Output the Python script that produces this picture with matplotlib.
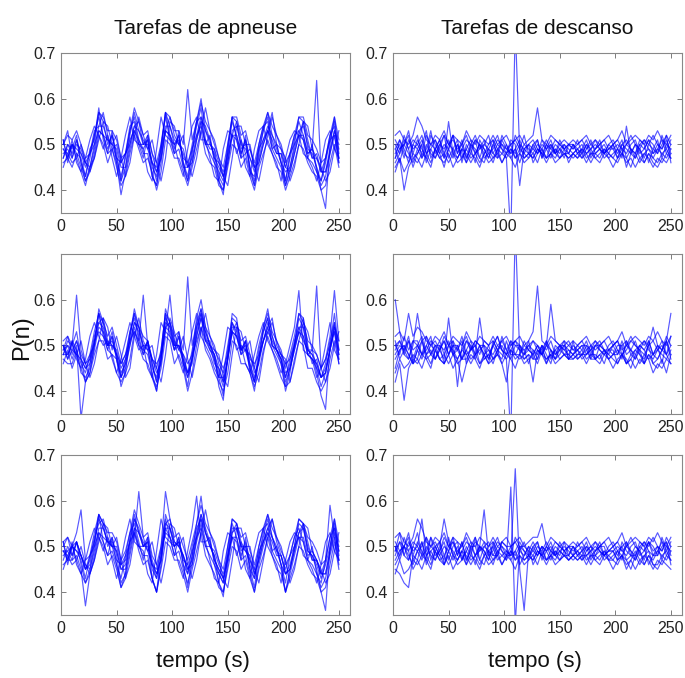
import numpy as np
import matplotlib
matplotlib.use("Agg")
import matplotlib.pyplot as plt

plt.rcParams['font.family'] = ['Liberation Sans', 'DejaVu Sans']

# time axis (s), sampled every 4 s
t = np.arange(2, 251, 4)

titles = ["Tarefas de apneuse", "Tarefas de descanso"]
xlabel = "tempo (s)"
ylabel = "P(n)"
xticks = [0, 50, 100, 150, 200, 250]

# values in hundredths of P(n)
apn1 = [
    [47,50,49,52,46,43,47,52,56,52, 49,52,47,43,47,53,56,51,49,51, 46,42,49,57,52,49,52,46,43,49, 54,58,51,49,49,43,41,49,55,52, 48,51,45,42,49,53,56,50,48,48, 42,47,51,55,52,48,49,45,42,46, 51,55,47],
    [46,47,45,48,45,42,44,48,53,52, 48,49,46,39,44,49,53,51,48,48, 43,41,46,53,52,48,49,45,42,46, 51,55,50,48,46,42,40,46,52,51, 47,48,44,41,46,50,53,49,47,45, 41,44,48,52,51,47,46,44,41,43, 48,52,46],
    [50,52,51,53,50,47,48,52,57,56, 53,53,51,47,48,53,58,55,52,53, 48,46,50,57,56,53,53,50,62,51, 55,59,55,53,51,47,45,50,56,56, 52,53,49,46,50,54,57,54,52,50, 46,48,52,56,56,52,51,49,46,47, 52,56,51],
    [49,48,50,47,50,46,44,47,51,55, 54,50,52,47,43,46,52,56,52,49, 51,46,42,47,55,54,50,52,46,43, 47,53,58,53,50,47,43,41,47,54, 54,50,50,45,42,47,52,56,52,49, 47,42,45,50,55,54,49,47,45,42, 44,49,53],
    [48,49,47,51,46,42,45,50,57,55, 50,52,48,42,45,52,57,53,50,51, 43,41,48,57,54,50,52,46,42,48, 55,60,53,50,48,42,39,48,56,55, 49,50,45,41,48,53,57,52,49,46, 41,45,50,56,55,49,48,45,40,36, 50,56,48],
    [47,50,48,51,48,45,48,50,53,52, 51,50,47,46,48,51,53,50,50,50, 46,45,49,53,52,50,51,47,46,49, 52,54,50,50,49,46,44,48,52,52, 48,51,47,45,49,51,53,51,48,48, 45,48,50,52,52,48,49,64,44,47, 51,52,47],
    [51,47,51,46,44,47,51,54,52,49, 52,47,43,47,52,56,51,50,49,44, 42,49,56,52,51,50,46,43,49,54, 56,51,51,47,43,42,49,53,52,48, 51,45,43,49,53,54,50,48,46,42, 47,51,53,52,48,47,45,42,46,51, 53,49,47],
    [49,47,50,49,48,46,45,49,54,54, 51,50,49,45,45,50,54,53,51,49, 46,44,47,54,54,51,50,48,45,47, 52,56,53,51,47,45,43,47,53,54, 50,49,47,44,47,51,54,52,50,46, 44,45,49,53,54,50,47,47,44,44, 49,53,49],
    [50,53,47,50,49,46,48,53,54,57, 52,49,50,46,48,50,54,55,50,52, 48,44,47,53,56,52,50,49,45,46, 51,55,54,51,47,46,43,46,52,55, 51,48,49,45,46,50,53,57,50,49, 45,44,48,52,55,51,47,48,44,44, 48,53,50],
    [45,48,46,47,44,41,45,47,52,50, 46,49,45,41,43,48,52,49,46,47, 44,40,44,51,50,47,47,44,41,45, 49,53,48,46,45,41,40,45,50,49, 45,47,43,40,45,48,51,48,45,44, 40,43,46,50,49,46,44,43,40,41, 46,50,45],
    [51,46,50,48,47,43,49,51,58,51, 48,53,46,42,48,54,55,50,47,52, 45,43,50,56,51,48,53,45,45,50, 55,56,50,52,46,44,42,50,56,51, 47,52,44,43,50,54,55,49,50,46, 42,48,52,53,51,47,50,44,42,47, 52,54,46],
]

apn2 = [
    [48,51,50,53,47,42,46,51,57,53, 50,53,48,43,46,52,57,52,48,51, 46,42,47,56,54,49,52,47,43,47, 54,58,52,49,48,44,41,47,55,53, 49,51,46,42,47,53,56,50,49,47, 42,45,50,56,54,48,47,46,43,44, 49,55,49],
    [47,46,46,49,44,43,45,49,54,53, 49,48,47,43,45,50,54,50,49,48, 44,40,47,54,53,49,50,46,43,47, 52,56,51,49,47,43,39,47,53,52, 48,49,45,42,47,51,54,50,48,46, 41,45,49,53,52,48,47,45,41,44, 49,53,46],
    [51,52,50,61,49,46,48,53,57,55, 52,54,50,46,48,53,57,54,52,51, 47,45,49,57,55,52,53,49,65,50, 55,58,54,52,50,46,44,50,56,55, 51,52,48,45,50,54,57,53,51,49, 45,48,52,57,55,51,50,48,45,47, 52,62,51],
    [50,47,49,48,51,46,43,46,51,56, 54,49,52,48,43,45,52,56,51,49, 50,45,42,48,56,53,49,52,47,43, 48,53,57,52,49,48,43,41,48,54, 53,49,51,45,42,48,53,55,51,48, 47,42,46,51,55,53,49,48,45,42, 45,50,53],
    [49,50,47,50,34,42,44,50,58,55, 50,52,47,41,44,52,58,54,50,50, 43,40,47,58,55,50,53,46,41,48, 56,60,54,50,48,41,38,48,57,56, 49,51,44,40,47,54,58,52,49,46, 40,44,50,57,56,49,48,44,39,36, 50,57,49],
    [48,50,49,51,48,46,47,51,53,52, 50,51,48,46,48,51,53,51,61,50, 47,46,48,53,52,50,50,48,46,48, 51,54,51,50,49,47,45,48,53,52, 49,50,47,46,48,51,53,51,49,48, 46,47,50,53,51,49,49,63,45,47, 50,53,48],
    [50,48,51,47,45,47,52,55,52,50, 51,47,44,47,51,55,52,49,50,45, 43,48,55,53,61,51,47,44,48,53, 57,52,50,48,45,43,48,54,53,49, 50,46,44,48,52,55,51,49,47,44, 46,50,54,62,49,48,47,43,45,50, 55,49,47],
    [48,48,50,48,47,45,46,50,55,54, 50,50,48,44,46,50,55,53,50,49, 45,43,48,55,54,50,50,47,44,47, 53,57,53,50,48,45,42,47,54,54, 49,49,46,43,47,51,55,52,49,47, 43,46,50,54,54,49,48,46,43,44, 49,54,48],
    [49,52,48,51,47,45,47,52,55,56, 51,50,49,45,47,51,55,54,49,51, 47,44,46,54,55,51,49,48,44,46, 52,56,53,50,46,45,42,47,53,55, 50,49,48,44,46,51,54,56,50,48, 44,45,49,53,56,50,46,47,43,45, 49,54,51],
    [46,49,45,48,45,42,44,48,51,51, 47,48,44,42,44,47,53,50,47,46, 43,41,45,52,51,46,48,45,40,44, 50,54,49,47,44,42,40,44,51,50, 46,46,44,41,44,49,52,49,46,43, 41,42,47,51,50,45,45,42,40,42, 47,51,46],
    [50,47,51,49,46,44,48,50,57,52, 49,52,47,43,47,53,56,51,48,51, 46,42,49,57,52,49,52,46,44,49, 54,57,51,51,47,43,43,49,55,52, 48,51,45,42,49,53,56,50,49,47, 43,47,51,54,52,48,49,45,43,46, 51,55,47],
]

apn3 = [
    [49,49,50,51,48,45,46,51,56,54, 51,51,49,45,46,51,56,53,50,51, 46,43,48,55,54,50,51,48,44,48, 53,57,53,50,48,44,42,48,54,54, 50,50,46,43,48,52,56,52,49,48, 44,46,50,55,54,49,48,46,43,46, 50,55,49],
    [46,47,47,48,45,37,44,48,53,51, 48,49,46,41,44,49,54,50,48,48, 43,40,46,54,52,48,49,45,42,46, 51,55,50,48,46,42,40,46,52,51, 47,48,44,40,46,50,53,49,47,45, 40,44,48,52,51,47,46,44,41,43, 48,52,46],
    [51,52,50,53,58,47,48,53,57,55, 53,53,51,47,49,53,58,55,52,53, 48,46,50,62,56,52,53,50,47,51, 55,59,55,53,51,47,45,50,56,55, 52,53,49,46,50,54,57,54,52,50, 46,48,52,56,55,52,51,49,46,47, 52,56,51],
    [49,48,50,47,50,46,44,47,51,55, 54,50,52,47,43,46,52,62,52,49, 51,46,42,47,55,54,50,52,46,43, 47,53,58,53,50,47,43,41,47,54, 54,50,50,45,42,47,52,56,52,49, 47,42,45,50,55,54,49,47,45,42, 44,49,53],
    [48,49,47,51,46,42,45,50,57,55, 50,52,48,42,44,52,57,53,50,51, 43,40,48,57,54,50,52,46,41,48, 55,61,53,50,48,42,39,48,56,55, 49,50,45,41,48,53,57,52,49,46, 40,45,50,56,55,49,48,45,40,36, 50,56,48],
    [47,50,48,51,48,45,48,50,53,52, 51,50,47,46,48,51,53,50,50,50, 46,45,49,53,52,50,51,47,46,49, 52,54,50,50,49,46,44,48,52,52, 48,51,47,45,49,51,53,51,48,48, 45,48,50,52,52,48,49,47,44,47, 59,52,47],
    [51,47,51,46,44,47,51,54,52,49, 52,47,43,47,52,56,51,50,49,44, 42,49,56,52,51,50,46,43,49,54, 61,51,51,47,43,42,49,53,52,48, 51,45,43,49,53,54,50,48,46,42, 47,51,53,52,48,47,45,42,46,51, 53,49,47],
    [49,47,50,49,48,46,45,49,54,54, 51,50,49,45,45,50,54,53,51,49, 46,44,47,54,54,51,50,48,45,47, 52,56,53,51,47,45,43,47,53,54, 50,49,47,44,47,51,54,52,50,46, 44,45,49,53,54,50,47,47,44,44, 49,53,49],
    [50,52,48,51,48,45,47,52,55,56, 52,50,50,46,47,51,56,54,50,52, 47,44,47,55,56,51,50,48,45,46, 52,57,54,51,47,45,43,47,53,55, 51,49,48,44,47,51,54,56,51,48, 44,45,49,53,55,51,47,47,44,44, 49,54,50],
    [45,48,46,47,44,42,44,47,52,50, 46,48,45,41,43,48,53,49,46,47, 43,40,45,51,50,47,47,44,40,45, 49,53,48,46,44,41,40,45,50,49, 45,47,43,40,45,48,52,48,45,44, 40,43,46,50,49,46,44,43,40,41, 46,51,45],
    [51,46,50,49,47,43,48,51,57,51, 48,52,46,43,48,53,55,51,47,52, 45,43,50,56,52,48,52,46,44,50, 54,56,51,52,46,44,42,50,55,52, 47,52,45,43,50,54,55,49,50,46, 42,48,52,54,51,47,50,44,42,47, 52,54,47],
]

des1 = [
    [48,50,47,51,49,50,52,48,49,47, 50,49,51,48,50,47,49,51,48,50, 49,47,50,52,49,48,50,51,49,48, 50,49,48,50,49,51,48,49,50,49, 48,49,50,48,49,50,49,48,50,51, 49,48,50,49,47,50,51,49,48,50, 49,51,48],
    [45,47,44,46,48,47,45,48,46,49, 47,46,48,45,47,49,46,48,47,45, 48,46,47,49,46,48,47,45,48,46, 47,48,46,49,47,48,46,47,48,47, 48,47,48,46,48,47,46,48,47,45, 47,48,46,47,45,47,46,48,46,45, 47,46,48],
    [52,53,51,50,52,56,54,51,50,52, 51,53,50,52,51,50,53,51,50,52, 51,50,52,50,51,52,50,51,52,50, 51,52,58,51,50,52,51,50,51,50, 51,50,51,52,50,51,50,51,52,50, 51,53,50,51,52,51,50,52,51,53, 51,50,52],
    [44,47,40,45,47,46,48,47,45,49, 47,48,46,48,46,47,49,47,48,46, 48,49,47,48,46,48,49,47,48,47, 48,47,49,48,47,48,49,47,48,48, 47,48,49,47,48,48,47,49,48,47, 46,48,47,45,48,46,48,47,45,47, 46,48,47],
    [49,51,48,47,50,49,51,48,50,49, 51,48,50,49,47,49,51,50,48,49, 50,49,48,50,49,47,30,76,48,50, 49,48,50,49,51,49,48,50,49,48, 50,49,48,50,49,51,49,48,49,50, 48,50,51,49,48,50,49,51,48,49, 51,48,50],
    [50,48,52,49,51,50,48,52,50,51, 49,52,50,51,49,50,52,49,51,50, 48,50,51,49,50,48,51,50,41,49, 50,51,49,48,50,49,51,50,49,50, 49,50,51,49,50,49,50,51,49,50, 51,49,50,52,50,49,51,50,52,50, 49,52,50],
    [47,49,50,48,46,49,47,50,48,47, 49,47,55,48,47,49,48,46,48,50, 47,48,46,49,48,47,49,48,50,47, 48,47,49,48,46,48,47,49,48,47, 48,49,47,48,49,47,48,49,47,48, 49,47,54,48,47,49,46,48,47,49, 48,47,49],
    [51,49,50,53,48,51,49,47,52,50, 48,50,49,52,48,51,47,50,52,49, 51,48,49,51,50,49,48,52,50,49, 48,50,51,47,49,50,48,51,49,50, 50,48,49,51,48,49,50,48,49,49, 50,49,48,50,51,48,49,51,50,48, 52,49,51],
    [47,51,49,46,50,52,47,49,53,48, 50,52,47,49,51,46,50,48,51,47, 50,52,48,47,51,49,50,47,49,52, 48,49,51,47,50,48,50,49,47,50, 49,51,48,50,47,49,51,48,50,49, 47,50,49,48,50,49,47,50,49,51, 47,50,49],
    [49,46,50,52,47,48,50,53,47,49, 51,47,49,52,48,50,47,49,46,51, 49,47,50,48,52,50,48,49,51,48, 47,50,48,51,49,47,49,48,50,48, 50,48,47,49,51,48,49,50,48,47, 49,51,47,49,48,51,50,46,49,48, 50,52,46],
    [46,48,51,49,45,48,50,46,49,51, 48,45,49,47,50,48,46,50,49,47, 46,49,51,47,48,50,47,49,46,49, 50,46,48,49,47,50,48,47,49,46, 48,47,49,48,46,48,49,47,48,50, 47,49,45,48,50,47,48,49,47,46, 48,49,47],
]

des2 = [
    [60,53,48,51,49,50,52,48,49,47, 50,49,51,48,50,47,49,51,48,56, 49,47,50,52,49,48,50,51,49,48, 50,49,48,50,49,51,48,49,50,49, 48,49,50,48,49,50,49,48,50,51, 49,48,50,49,47,50,51,49,48,50, 49,51,57],
    [44,47,45,46,48,47,45,48,46,49, 47,46,48,45,47,42,46,48,47,45, 48,46,47,49,46,48,47,45,48,46, 47,48,46,49,47,48,46,47,48,47, 48,47,48,46,48,47,46,48,47,45, 47,48,46,47,45,47,46,48,46,45, 47,44,48],
    [52,53,51,57,52,54,53,51,50,52, 51,53,50,52,51,50,53,51,50,52, 51,50,52,50,51,52,50,51,52,50, 51,53,63,51,50,52,51,50,51,50, 51,50,51,52,50,51,50,51,52,50, 51,53,50,51,52,51,50,52,51,53, 51,50,52],
    [42,46,38,45,47,46,48,47,45,49, 47,48,46,48,46,47,49,47,48,46, 48,49,47,48,46,42,49,47,48,47, 48,42,49,48,47,48,49,47,48,48, 47,48,49,47,48,48,47,49,48,47, 46,48,47,45,48,46,48,47,44,46, 45,47,46],
    [49,51,48,47,50,57,51,48,50,49, 51,48,50,49,47,49,51,50,48,49, 50,49,48,50,49,47,30,76,48,50, 49,48,50,49,51,49,48,50,49,48, 50,49,48,50,49,51,49,48,49,50, 48,50,51,49,48,50,49,51,48,49, 51,48,50],
    [50,48,52,49,51,50,48,52,50,51, 49,52,50,51,41,50,52,49,51,50, 48,50,51,49,50,48,51,50,49,49, 50,51,49,48,50,59,51,50,49,50, 49,50,51,49,50,49,50,51,49,50, 51,49,50,52,50,49,51,50,54,50, 49,52,50],
    [47,49,50,48,46,49,47,50,48,47, 49,47,56,48,47,49,48,46,48,50, 47,48,46,49,48,47,49,48,50,47, 48,47,49,48,46,48,47,49,48,47, 48,49,47,48,49,47,48,49,47,48, 49,47,51,48,47,49,46,48,47,49, 48,47,49],
    [50,51,49,52,47,50,48,49,51,50, 49,51,48,50,49,52,48,49,51,50, 50,47,50,52,49,48,49,51,50,48, 49,51,50,48,50,49,47,50,50,51, 49,49,50,50,47,50,51,49,48,50, 51,48,49,51,50,49,48,50,51,49, 50,48,52],
    [48,50,49,47,51,51,48,50,52,47, 49,51,48,50,50,47,51,49,50,48, 51,50,47,48,52,49,51,48,48,51, 49,48,50,48,51,47,49,50,48,49, 48,50,49,51,48,50,50,49,49,48, 48,51,48,49,51,48,46,51,48,50, 46,51,48],
    [51,47,49,51,46,49,51,52,48,50, 50,46,48,51,49,51,46,50,47,50, 48,46,51,49,51,49,47,50,50,49, 46,49,47,50,48,46,50,49,51,47, 51,47,48,48,50,47,50,49,47,48, 50,50,46,48,49,50,49,47,48,47, 49,51,47],
    [45,49,50,48,46,47,51,47,48,50, 47,46,50,48,49,47,47,49,50,46, 47,48,50,48,47,51,48,48,47,48, 51,47,47,50,46,49,47,48,50,47, 47,48,48,49,47,47,48,46,49,49, 46,48,46,47,49,48,47,50,46,47, 49,48,46],
]

des3 = [
    [49,53,48,51,49,50,56,48,49,47, 50,56,51,48,50,47,49,51,48,50, 49,47,50,52,49,48,50,51,49,48, 50,49,48,50,49,51,48,49,50,49, 48,49,50,48,49,50,49,48,50,51, 49,48,50,49,47,50,51,49,48,50, 49,51,48],
    [45,44,42,41,48,47,45,48,46,49, 47,46,48,45,47,49,46,48,47,45, 48,46,47,49,46,48,47,45,48,46, 47,48,46,49,47,48,46,47,48,47, 48,47,48,46,48,47,46,48,47,45, 47,48,46,47,45,47,46,48,46,45, 47,46,45],
    [52,53,51,50,52,56,54,51,50,52, 51,53,50,52,51,50,53,51,50,52, 51,50,52,50,51,52,50,51,52,50, 51,52,52,55,50,52,51,50,51,50, 51,50,51,52,50,51,50,51,52,50, 51,53,50,51,52,51,50,52,51,53, 51,50,52],
    [44,47,44,45,47,46,48,47,45,49, 47,48,46,48,46,47,49,47,48,46, 48,49,47,48,46,48,49,47,48,47, 48,47,49,48,47,48,49,47,48,48, 47,48,49,47,48,48,47,49,48,47, 46,48,47,45,48,46,48,47,45,47, 46,48,47],
    [49,51,48,47,50,49,51,48,50,49, 51,48,50,49,47,49,51,50,48,49, 50,49,48,50,49,47,63,33,50,50, 49,48,50,49,51,49,48,50,49,48, 50,49,48,50,49,51,49,48,49,50, 48,50,51,49,48,50,49,51,48,49, 51,48,50],
    [50,48,52,49,51,50,48,52,50,51, 49,52,50,51,49,50,52,49,51,50, 48,50,51,49,50,48,48,67,45,36, 49,51,49,48,50,49,51,50,49,50, 49,50,51,49,50,49,50,51,49,50, 51,49,50,52,50,49,51,50,52,50, 49,52,50],
    [47,49,50,48,46,49,47,50,48,47, 49,47,52,48,47,49,48,46,48,50, 58,48,46,49,48,47,49,48,50,47, 48,47,49,48,46,48,47,49,48,47, 48,49,47,48,49,47,48,49,47,48, 49,47,51,48,47,49,46,48,47,49, 48,47,49],
    [51,49,50,53,48,51,49,47,52,50, 48,50,49,52,48,51,47,50,52,49, 51,48,49,51,50,49,48,52,50,49, 48,50,51,47,49,50,48,51,49,50, 50,48,49,51,48,49,50,48,49,49, 50,49,48,50,51,48,49,51,50,48, 52,49,51],
    [48,51,50,47,50,53,48,49,52,48, 49,51,47,50,51,47,50,48,52,47, 50,51,48,48,51,50,50,47,49,51, 48,49,51,48,50,48,50,49,48,50, 48,51,49,50,47,49,51,48,49,49, 47,51,49,48,50,49,47,51,49,50, 47,50,49],
    [50,47,50,52,47,49,50,52,47,50, 51,46,49,51,48,51,47,49,46,50, 49,47,51,48,51,50,47,49,51,49, 47,50,48,50,49,47,49,48,51,48, 50,48,47,49,50,48,50,50,47,47, 49,50,47,48,48,51,50,46,48,48, 50,51,46],
    [46,48,50,49,45,47,51,46,49,50, 48,46,49,47,49,48,46,50,50,47, 46,49,50,47,48,49,48,49,46,48, 50,46,48,50,47,49,48,47,49,47, 48,47,48,48,46,48,49,47,48,49, 47,48,45,47,49,47,48,49,46,46, 48,49,47],
]

panels = [[apn1, des1], [apn2, des2], [apn3, des3]]
yticks_rows = [[0.4, 0.5, 0.6, 0.7], [0.4, 0.5, 0.6], [0.4, 0.5, 0.6, 0.7]]

for name, grp in (("apn1", apn1), ("apn2", apn2), ("apn3", apn3),
                  ("des1", des1), ("des2", des2), ("des3", des3)):
    for i, tr in enumerate(grp):
        assert len(tr) == len(t), f"{name}[{i}] has {len(tr)}"

W, H = 685, 678
fig = plt.figure(figsize=(W / 100, H / 100), dpi=100)
lefts = [61 / W, 393 / W]
width = 289 / W
tops = [53, 254, 455]
height = 160 / H

for r in range(3):
    for c in range(2):
        ax = fig.add_axes([lefts[c], 1 - (tops[r] + 160) / H, width, height])
        for tr in panels[r][c]:
            ax.plot(t, np.array(tr) / 100.0, color='#0000ff', lw=0.85, alpha=0.65)
        ax.set_xlim(0, 260)
        ax.set_ylim(0.35, 0.7)
        ax.set_xticks(xticks)
        ax.set_yticks(yticks_rows[r])
        ax.set_yticklabels([f"{v:.1f}" for v in yticks_rows[r]])
        ax.tick_params(direction='in', top=True, right=True, length=3.5,
                       width=0.6, color='#666666', labelsize=11.5,
                       labelcolor='#222222', pad=4)
        for s in ax.spines.values():
            s.set_color('#888888')
            s.set_linewidth(0.8)
        if r == 0:
            cx = lefts[c] + width / 2
            fig.text(cx, 1 - 28 / H, titles[c], ha='center', va='center',
                     fontsize=15, color='#111111')
        if r == 2:
            cx = lefts[c] + width / 2 - 3 / W
            fig.text(cx, 1 - 661 / H, xlabel, ha='center', va='center',
                     fontsize=16, color='#111111')

fig.text(22 / W, 1 - 338 / H, ylabel, rotation=90, ha='center', va='center',
         fontsize=17, color='#111111')

fig.savefig('out.png', dpi=100)
